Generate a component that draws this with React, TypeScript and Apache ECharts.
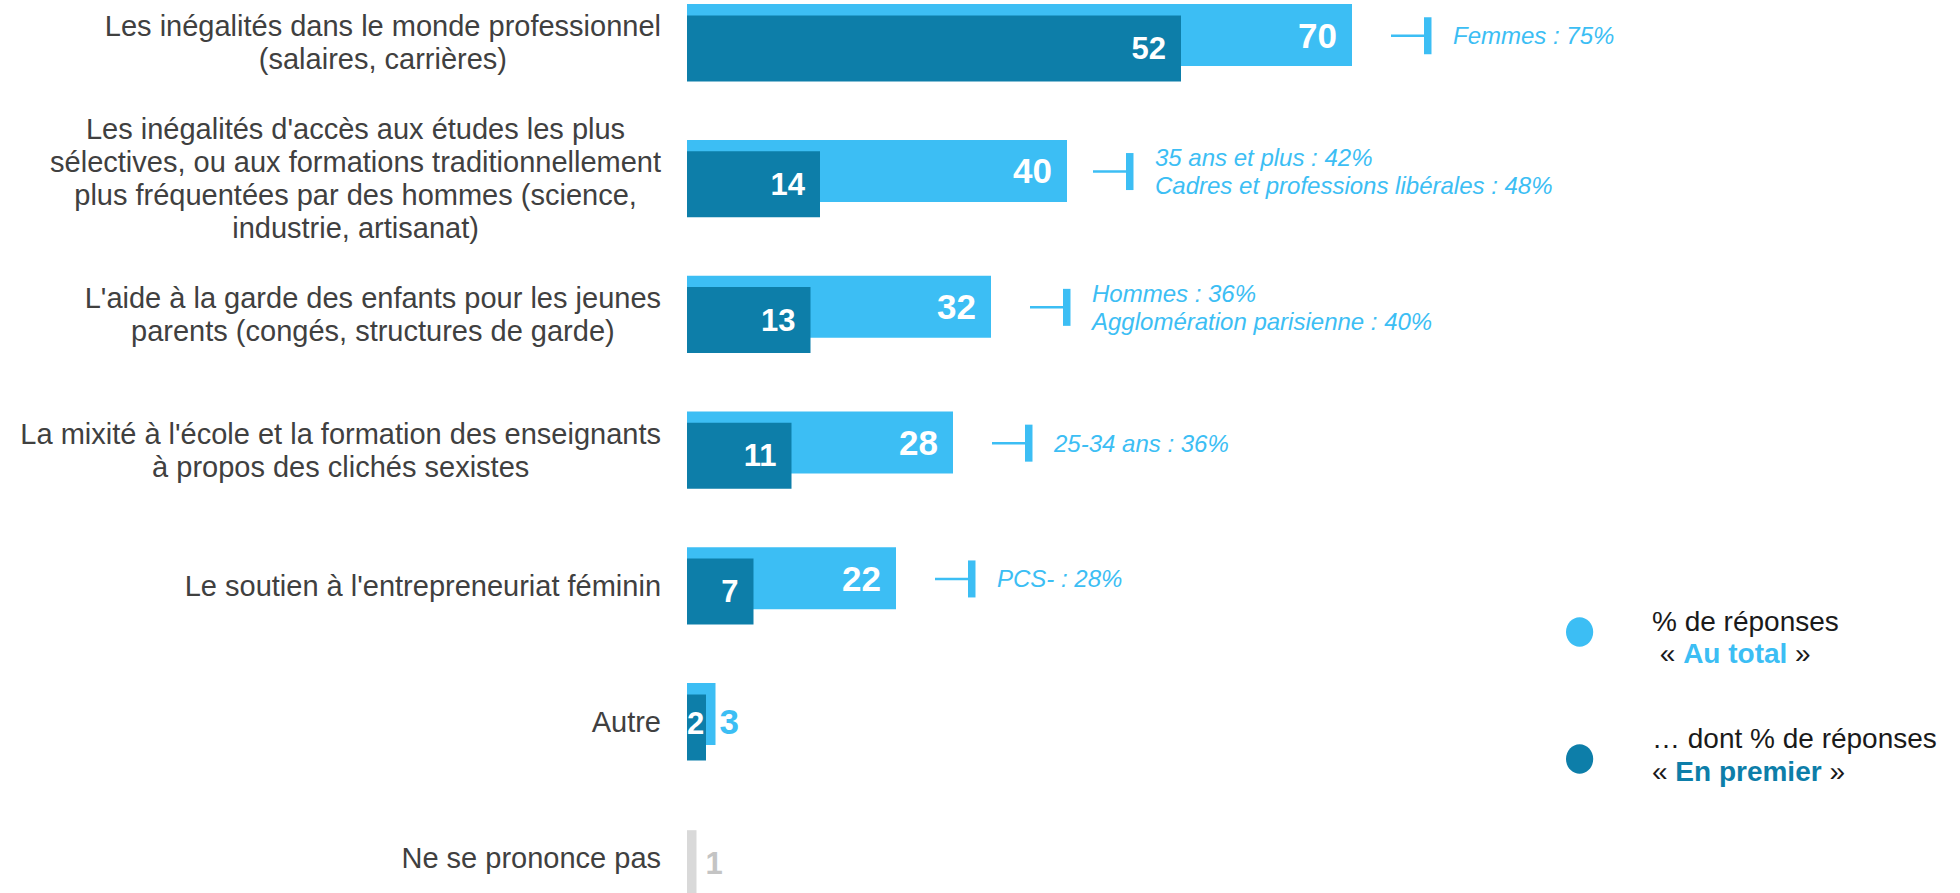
import React, { useEffect, useRef } from "react";
import * as echarts from "echarts";

const categories: string[] = [
  "Les inégalités dans le monde professionnel\n(salaires, carrières)",
  "Les inégalités d'accès aux études les plus\nsélectives, ou aux formations traditionnellement\nplus fréquentées par des hommes (science,\nindustrie, artisanat)",
  "L'aide à la garde des enfants pour les jeunes\nparents (congés, structures de garde)",
  "La mixité à l'école et la formation des enseignants\nà propos des clichés sexistes",
  "Le soutien à l'entrepreneuriat féminin",
  "Autre",
  "Ne se prononce pas",
];

const totals: (number | null)[] = [70, 40, 32, 28, 22, 3, 1];
const firsts: (number | null)[] = [52, 14, 13, 11, 7, 2, 1];

const notes: string[] = [
  "Femmes : 75%",
  "35 ans et plus : 42%\nCadres et professions libérales : 48%",
  "Hommes : 36%\nAgglomération parisienne : 40%",
  "25-34 ans : 36%",
  "PCS- : 28%",
  "",
  "",
];

// layout tweaks (pixels) for the annotation brackets
const noteShift: number[] = [0, -13, 0, 0, 0, 0, 0];

const legendLines: string[] = [
  "% de réponses\n « {a|Au total} »",
  "… dont % de réponses\n« {b|En premier} »",
];

const FONT = "'Liberation Sans', Arial, Helvetica, sans-serif";
const LIGHT = "#3CBEF4";
const DARK = "#0D7EA9";
const GREY_BAR = "#D9D9D9";
const GREY_TXT = "#C4C4C4";
const OTHER_IDX = 5;
const NSP_IDX = 6;

export default function App() {
  const ref = useRef<HTMLDivElement>(null);

  useEffect(() => {
    if (!ref.current) return;
    document.body.style.margin = "0";
    const chart = echarts.init(ref.current, undefined, { renderer: "svg" });

    const totalData = totals.map((v, i) => {
      if (i === OTHER_IDX)
        return { value: v, label: { position: "right", distance: 4, color: LIGHT, offset: [0, 7] } };
      if (i === NSP_IDX)
        return { value: v, itemStyle: { color: "transparent" }, label: { show: false } };
      return v;
    });

    const firstData = firsts.map((v, i) => {
      if (i === OTHER_IDX)
        return { value: v, label: { position: "insideLeft", distance: 0, offset: [0, -4] } };
      if (i === NSP_IDX)
        return {
          value: v,
          itemStyle: { color: GREY_BAR },
          label: { position: "right", distance: 9, color: GREY_TXT },
        };
      return v;
    });

    const noteData = notes
      .map((n, i) => [totals[i], i, n])
      .filter((d) => d[2] !== "");

    const option: any = {
      animation: false,
      grid: {
        left: 687,
        top: -25.15,
        width: 950,
        height: 950.6,
        containLabel: false,
        outerBoundsMode: "none",
      },
      xAxis: {
        type: "value",
        min: 0,
        max: 100,
        show: false,
      },
      yAxis: {
        type: "category",
        inverse: true,
        data: categories,
        axisLine: { show: false },
        axisTick: { show: false },
        splitLine: { show: false },
        axisLabel: {
          margin: 26,
          formatter: (v: string) =>
            v
              .split("\n")
              .map((l) => `{c|${l}}`)
              .join("\n"),
          rich: {
            c: {
              align: "center",
              fontSize: 29,
              lineHeight: 33,
              color: "#404040",
              fontFamily: FONT,
            },
          },
        },
      },
      series: [
        {
          name: "Au total",
          type: "bar",
          barWidth: 62,
          barGap: "-81.77%",
          data: totalData,
          itemStyle: { color: LIGHT },
          label: {
            show: true,
            position: "insideRight",
            distance: 15,
            color: "#fff",
            fontSize: 35,
            fontWeight: "bold",
            fontFamily: FONT,
          },
        },
        {
          name: "En premier",
          type: "bar",
          barWidth: 66,
          barGap: "-81.77%",
          data: firstData,
          itemStyle: { color: DARK },
          label: {
            show: true,
            position: "insideRight",
            distance: 15,
            color: "#fff",
            fontSize: 31,
            fontWeight: "bold",
            fontFamily: FONT,
          },
        },
        {
          type: "custom",
          coordinateSystem: "cartesian2d",
          encode: { x: 0, y: 1 },
          data: noteData,
          z: 5,
          renderItem: (params: any, api: any) => {
            const idx = api.value(1);
            const p = api.coord([api.value(0), idx]);
            const s = noteShift[idx] || 0;
            const x = p[0] + s;
            const y = p[1] - 7;
            const text = notes[idx];
            return {
              type: "group",
              children: [
                {
                  type: "line",
                  shape: { x1: x + 39, y1: y, x2: x + 73, y2: y },
                  style: { stroke: LIGHT, lineWidth: 2.5 },
                },
                {
                  type: "rect",
                  shape: { x: x + 72, y: y - 18.5, width: 7.5, height: 37 },
                  style: { fill: LIGHT },
                },
                {
                  type: "text",
                  x: x + 101,
                  y: y,
                  style: {
                    text,
                    fill: LIGHT,
                    fontSize: 24,
                    fontStyle: "italic",
                    fontFamily: FONT,
                    lineHeight: 27.5,
                    verticalAlign: "middle",
                    align: "left",
                  },
                },
              ],
            };
          },
        },
      ],
      graphic: [
        {
          type: "ellipse",
          shape: { cx: 1579.6, cy: 632, rx: 13.6, ry: 14.7 },
          style: { fill: LIGHT },
        },
        {
          type: "ellipse",
          shape: { cx: 1579.6, cy: 759, rx: 13.6, ry: 14.7 },
          style: { fill: DARK },
        },
        {
          type: "text",
          x: 1652,
          y: 637.5,
          style: {
            text: legendLines[0],
            fill: "#1a1a1a",
            fontSize: 28,
            fontFamily: FONT,
            lineHeight: 31.5,
            verticalAlign: "middle",
            rich: {
              a: { fill: LIGHT, fontWeight: "bold", fontSize: 28, fontFamily: FONT, lineHeight: 31.5 },
            },
          },
        },
        {
          type: "text",
          x: 1652,
          y: 755,
          style: {
            text: legendLines[1],
            fill: "#1a1a1a",
            fontSize: 28,
            fontFamily: FONT,
            lineHeight: 33.5,
            verticalAlign: "middle",
            rich: {
              b: { fill: DARK, fontWeight: "bold", fontSize: 28, fontFamily: FONT, lineHeight: 33.5 },
            },
          },
        },
      ],
    };

    chart.setOption(option);
    return () => chart.dispose();
  }, []);

  return (
    <div
      ref={ref}
      style={{ position: "absolute", left: 0, top: 0, width: 1960, height: 893, background: "#fff" }}
    />
  );
}
